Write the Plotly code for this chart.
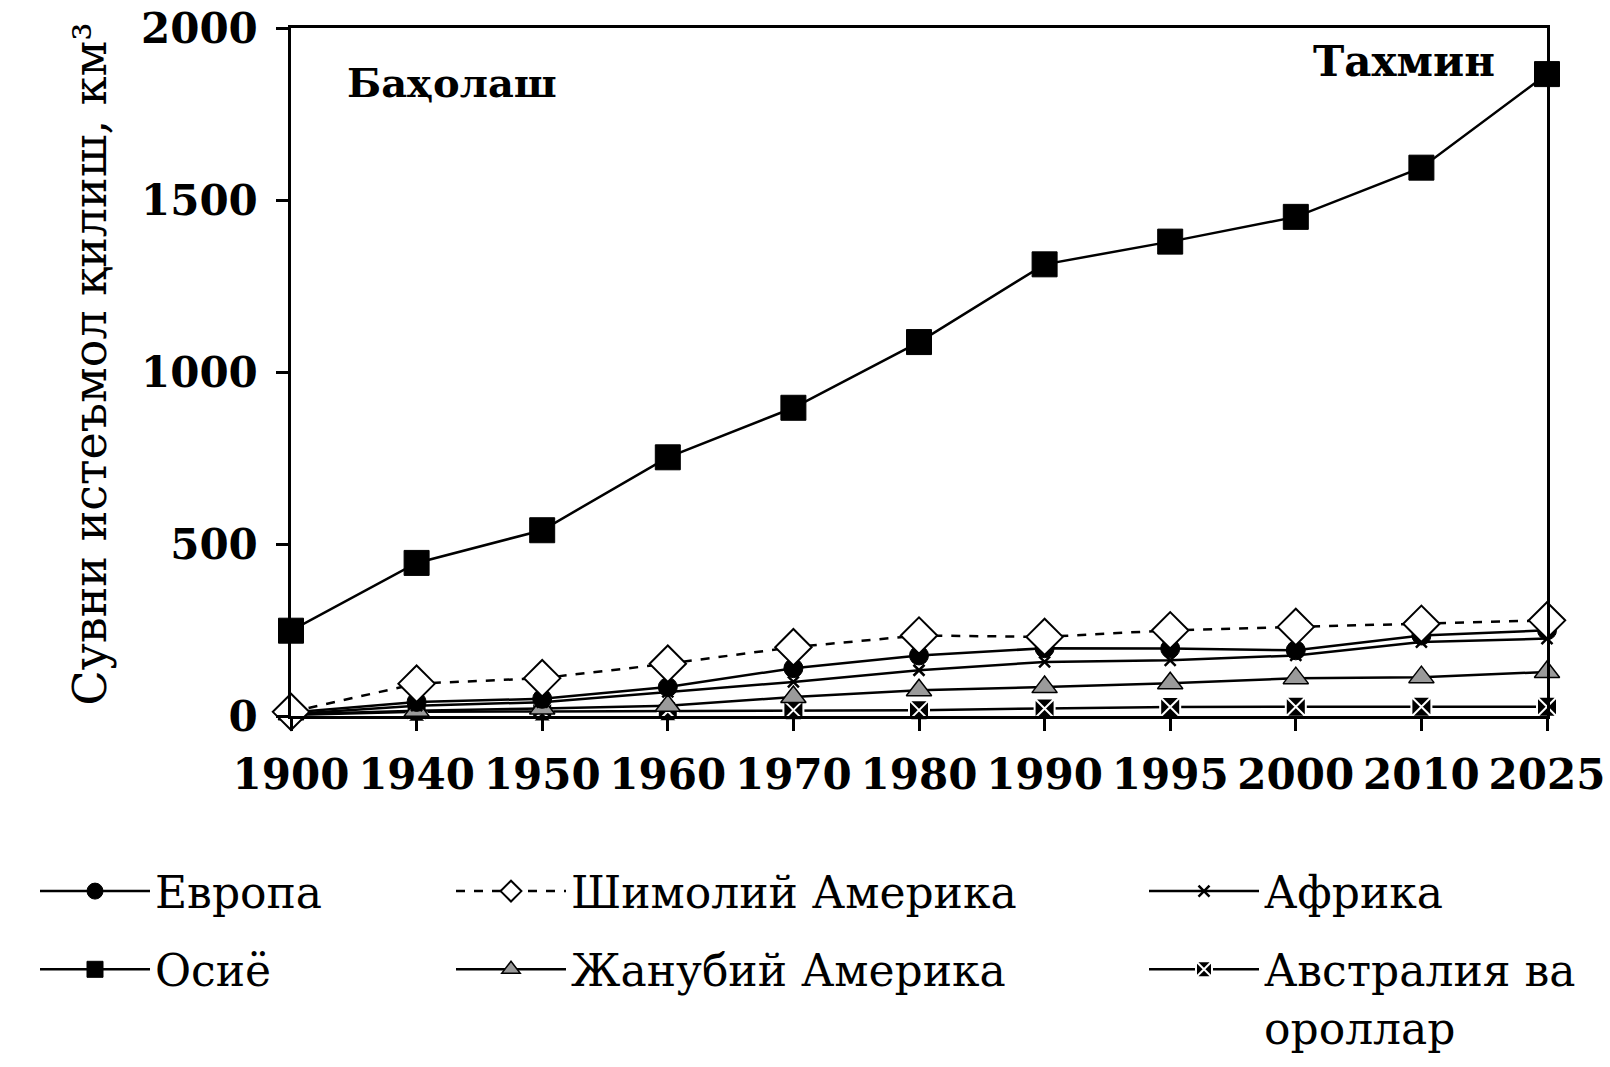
import plotly.graph_objects as go

years = ["1900", "1940", "1950", "1960", "1970", "1980", "1990", "1995", "2000", "2010", "2025"]
europe = [10, 41, 50, 84, 139, 176, 197, 196, 191, 234, 249]
asia = [248, 445, 540, 752, 896, 1087, 1313, 1379, 1451, 1594, 1866]
n_america = [12, 94, 110, 152, 200, 234, 230, 249, 259, 268, 278]
s_america = [5, 15, 22, 30, 55, 75, 84, 95, 110, 113, 128]
africa = [6, 30, 40, 70, 99, 133, 157, 162, 176, 215, 225]
australia = [3, 12, 13, 14, 17, 17, 22, 26, 27, 27, 27]

y_ticks = [0, 500, 1000, 1500, 2000]

xi = list(range(len(years)))
SERIF = "DejaVu Serif"

fig = go.Figure()

def add(name, y, legend, rank, symbol, size, color, lcolor, lwidth, dash="solid"):
    fig.add_trace(go.Scatter(
        x=xi, y=y, name=name, mode="lines+markers",
        line=dict(color="black", width=2.5, dash=dash),
        marker=dict(symbol=symbol, size=size, color=color,
                    line=dict(color=lcolor, width=lwidth)),
        cliponaxis=False, legend=legend, legendgroup=f"{legend}-{rank}",
        legendrank=rank,
    ))

# draw order: lower series first
add("Австралия ва<br>ороллар", australia, "legend3", 2, "square-x", 20, "black", "white", 2)
add("Жанубий Америка", s_america, "legend2", 2, "triangle-up", 22, "#9a9a9a", "black", 1.5)
add("Африка", africa, "legend3", 1, "x-thin", 11, "black", "black", 2.5)
add("Европа", europe, "legend", 1, "circle", 19, "black", "black", 1)
add("Шимолий Америка", n_america, "legend2", 1, "diamond", 28, "white", "black", 2, dash="dash")
add("Осиё", asia, "legend", 2, "square", 25, "black", "black", 1)

W, H = 1610, 1067

legend_common = dict(
    orientation="v", xref="container", yref="container",
    yanchor="top", y=1 - 856 / H, xanchor="left", valign="top",
    font=dict(family=SERIF, size=44, color="black"),
    itemwidth=110, tracegroupgap=18, bgcolor="rgba(0,0,0,0)",
    traceorder="grouped",
)

fig.update_layout(
    width=W, height=H,
    paper_bgcolor="white", plot_bgcolor="white",
    margin=dict(l=291, r=63, t=28, b=351, autoexpand=False),
    font=dict(family=SERIF, color="black"),
    showlegend=True,
    legend=dict(x=35 / W, **legend_common),
    legend2=dict(x=451 / W, **legend_common),
    legend3=dict(x=1144 / W, **legend_common),
    xaxis=dict(
        range=[0, len(years) - 1], tickmode="array", tickvals=xi, ticktext=years,
        showgrid=False, zeroline=False, showline=True, linecolor="black", linewidth=2.5,
        mirror=True, ticks="outside", ticklen=12, tickwidth=2.5, tickcolor="black",
        ticklabelstandoff=8, ticklabeloverflow="allow",
        tickfont=dict(family=SERIF, size=42, color="black", weight="bold"),
    ),
    yaxis=dict(
        range=[0, 2000], tickmode="array", tickvals=y_ticks,
        showgrid=False, zeroline=False, showline=True, linecolor="black", linewidth=2.5,
        mirror=True, ticks="outside", ticklen=12, tickwidth=2.5, tickcolor="black",
        ticklabelstandoff=10, ticklabeloverflow="allow",
        tickfont=dict(family=SERIF, size=42, color="black", weight="bold"),
    ),
    annotations=[
        dict(text="Сувни истеъмол қилиш, км³", textangle=-90,
             x=-0.16, y=0.511, xref="paper", yref="paper",
             xanchor="center", yanchor="middle", showarrow=False,
             font=dict(family=SERIF, size=46, color="black")),
        dict(text="Баҳолаш", x=0.128, y=0.9215, xref="paper", yref="paper",
             xanchor="center", yanchor="middle", showarrow=False,
             font=dict(family=SERIF, size=40, color="black", weight="bold")),
        dict(text="Тахмин", x=0.886, y=0.951, xref="paper", yref="paper",
             xanchor="center", yanchor="middle", showarrow=False,
             font=dict(family=SERIF, size=42, color="black", weight="bold")),
    ],
)

fig.write_html("out.html", config={"displayModeBar": False},
               post_script="document.body.style.margin='0';")
